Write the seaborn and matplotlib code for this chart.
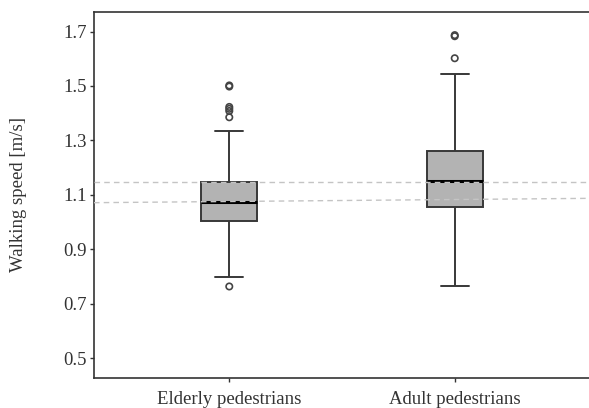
import numpy as np
import pandas as pd
import matplotlib
matplotlib.use("Agg")
import matplotlib.pyplot as plt
import seaborn as sns

# groups on the x axis
groups = ["Elderly pedestrians", "Adult pedestrians"]

# five-number summaries: whisker low, Q1, median, Q3, whisker high
elderly_box = [0.798, 1.005, 1.075, 1.147, 1.335]
adult_box = [0.764, 1.056, 1.152, 1.261, 1.543]

# points beyond the whiskers
elderly_out = [0.763, 1.385, 1.408, 1.416, 1.423, 1.498, 1.502]
adult_out = [1.602, 1.683, 1.687]

# dashed reference lines (value at left edge, value at right edge)
ref_upper = [1.146, 1.146]
ref_lower = [1.071, 1.087]

y_ticks = [0.5, 0.7, 0.9, 1.1, 1.3, 1.5, 1.7]

sns.set_style("white")
plt.rcParams["font.family"] = ["Liberation Serif", "DejaVu Serif"]

df_box = pd.DataFrame({
    "group": [groups[0]] * len(elderly_box) + [groups[1]] * len(adult_box),
    "speed": elderly_box + adult_box,
})
df_out = pd.DataFrame({
    "group": [groups[0]] * len(elderly_out) + [groups[1]] * len(adult_out),
    "speed": elderly_out + adult_out,
})

fig = plt.figure(figsize=(5.89, 4.08), dpi=100)
ax = fig.add_axes([94 / 589, 1 - 378 / 408, 496 / 589, 366 / 408])

sns.boxplot(data=df_box, x="group", y="speed", order=groups, width=0.25,
            color="#B3B3B3", saturation=1, linecolor="#383838", linewidth=1.4,
            showfliers=False, whis=1.5,
            medianprops={"color": "black", "linewidth": 2.2}, ax=ax)

sns.stripplot(data=df_out, x="group", y="speed", order=groups, jitter=False,
              color="#444444", facecolor="none", edgecolor="#444444",
              linewidth=1.2, size=4.6, marker="o", ax=ax)

ax.set_xlim(-0.6, 1.6)
ax.set_ylim(0.4265, 1.772)
xl = ax.get_xlim()
ax.plot(xl, ref_upper, ls=(0, (4, 3)), color="#C4C4C4", lw=1, zorder=4)
ax.plot(xl, ref_lower, ls=(0, (4, 3)), color="#C4C4C4", lw=1, zorder=4)
ax.set_xlim(xl)

ax.set_yticks(y_ticks)
ax.set_yticklabels([f"{v:.1f}" for v in y_ticks])
ax.set_xlabel("")
ax.set_ylabel("Walking speed [m/s]", fontsize=13.5, color="#333333", labelpad=26)
ax.tick_params(axis="y", pad=2)
ax.tick_params(axis="x", pad=6)
ax.tick_params(axis="both", labelsize=13.5, labelcolor="#333333", color="#333333",
               length=3, width=1, direction="out", left=True, bottom=True)
for s in ax.spines.values():
    s.set_color("#333333")
    s.set_linewidth(1.2)

fig.savefig("out.png", dpi=100)
